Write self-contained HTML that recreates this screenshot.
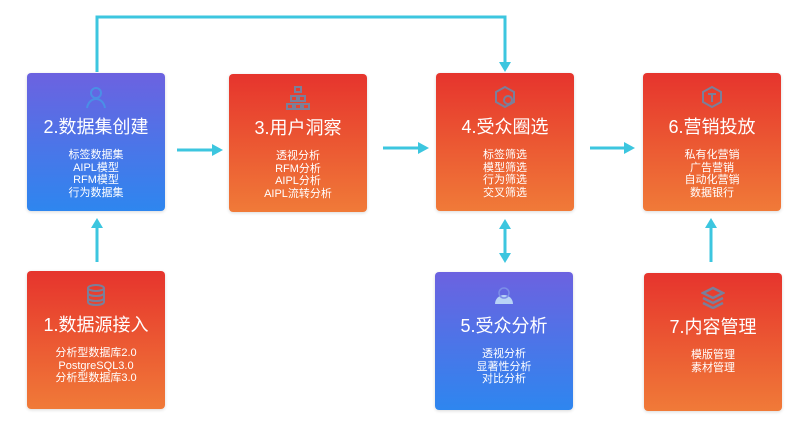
<!DOCTYPE html>
<html><head><meta charset="utf-8"><style>
body{margin:0;width:808px;height:436px;background:#fff;position:relative;overflow:hidden;font-family:"Liberation Sans","Noto Sans CJK SC",sans-serif}
.b{position:absolute;width:138px;height:138px;border-radius:4px;color:#fff;text-align:center;box-shadow:0 1px 3px rgba(0,0,0,.15)}
.blue{background:linear-gradient(#6c62e0,#2e86ef)}
.red{background:linear-gradient(#e6342d,#f07a38)}
.t{position:absolute;left:0;right:0;top:44px;font-size:18px;line-height:20px}
.l{position:absolute;left:0;right:0;top:76px;font-size:11px;line-height:12.5px}
.ic{position:absolute;left:57px;top:12px;width:24px;height:24px}
svg.c{position:absolute;left:0;top:0}
</style></head><body>
<svg class="c" width="808" height="436">
<g stroke="#3cc6df" stroke-width="3" fill="none">
<polyline points="97,72 97,17 505,17 505,64"/>
<line x1="177" y1="150" x2="214" y2="150"/>
<line x1="383" y1="148" x2="420" y2="148"/>
<line x1="590" y1="148" x2="626" y2="148"/>
<line x1="97" y1="262" x2="97" y2="226"/>
<line x1="505" y1="228" x2="505" y2="254"/>
<line x1="711" y1="262" x2="711" y2="226"/>
</g>
<g fill="#3cc6df">
<polygon points="499,62 511,62 505,72"/>
<polygon points="212,144 212,156 223,150"/>
<polygon points="418,142 418,154 429,148"/>
<polygon points="624,142 624,154 635,148"/>
<polygon points="91,228 103,228 97,218"/>
<polygon points="499,229 511,229 505,219"/>
<polygon points="499,253 511,253 505,263"/>
<polygon points="705,228 717,228 711,218"/>
</g>
</svg>
<div class="b blue" style="left:27px;top:73px"><svg class="ic" viewBox="0 0 24 24" fill="none" stroke="#4a8fe6" stroke-width="2"><circle cx="12" cy="8" r="5"/><path d="M3 23c1-6 5-9 9-9s8 3 9 9"/></svg><div class="t">2.数据集创建</div><div class="l">标签数据集<br>AIPL模型<br>RFM模型<br>行为数据集</div></div>
<div class="b red" style="left:229px;top:74px"><svg class="ic" viewBox="0 0 24 24" fill="none" stroke="#7a7f9a" stroke-width="2"><rect x="9" y="1" width="6" height="5"/><rect x="5" y="10" width="6" height="5"/><rect x="13" y="10" width="6" height="5"/><rect x="1" y="18" width="6" height="5"/><rect x="9" y="18" width="6" height="5"/><rect x="17" y="18" width="6" height="5"/></svg><div class="t">3.用户洞察</div><div class="l">透视分析<br>RFM分析<br>AIPL分析<br>AIPL流转分析</div></div>
<div class="b red" style="left:436px;top:73px"><svg class="ic" viewBox="0 0 24 24" fill="none" stroke="#7a7f9a" stroke-width="2"><path d="M12 2l9 5v10l-9 5-9-5V7z"/><circle cx="15" cy="15" r="4"/></svg><div class="t">4.受众圈选</div><div class="l">标签筛选<br>模型筛选<br>行为筛选<br>交叉筛选</div></div>
<div class="b red" style="left:643px;top:73px"><svg class="ic" viewBox="0 0 24 24" fill="none" stroke="#7a7f9a" stroke-width="2"><path d="M12 2l9 5v10l-9 5-9-5V7z"/><path d="M8 9h8M12 9v8"/></svg><div class="t">6.营销投放</div><div class="l">私有化营销<br>广告营销<br>自动化营销<br>数据银行</div></div>
<div class="b red" style="left:27px;top:271px"><svg class="ic" viewBox="0 0 24 24" fill="none" stroke="#7a7f9a" stroke-width="2"><ellipse cx="12" cy="5" rx="8" ry="3"/><path d="M4 5v14c0 2 4 3 8 3s8-1 8-3V5M4 10c0 2 4 3 8 3s8-1 8-3M4 15c0 2 4 3 8 3s8-1 8-3"/></svg><div class="t">1.数据源接入</div><div class="l">分析型数据库2.0<br>PostgreSQL3.0<br>分析型数据库3.0</div></div>
<div class="b blue" style="left:435px;top:272px"><svg class="ic" viewBox="0 0 24 24"><path d="M3 20a9 9 0 0 1 18 0z" fill="#b8d4f6"/><circle cx="12" cy="9" r="5" fill="none" stroke="#7c8ee8" stroke-width="1.5"/></svg><div class="t">5.受众分析</div><div class="l">透视分析<br>显著性分析<br>对比分析</div></div>
<div class="b red" style="left:644px;top:273px"><svg class="ic" viewBox="0 0 24 24" fill="none" stroke="#7a7f9a" stroke-width="2.5"><path d="M2 8l10-5 10 5-10 5z"/><path d="M2 13l10 5 10-5M2 18l10 5 10-5"/></svg><div class="t">7.内容管理</div><div class="l">模版管理<br>素材管理</div></div>
</body></html>
